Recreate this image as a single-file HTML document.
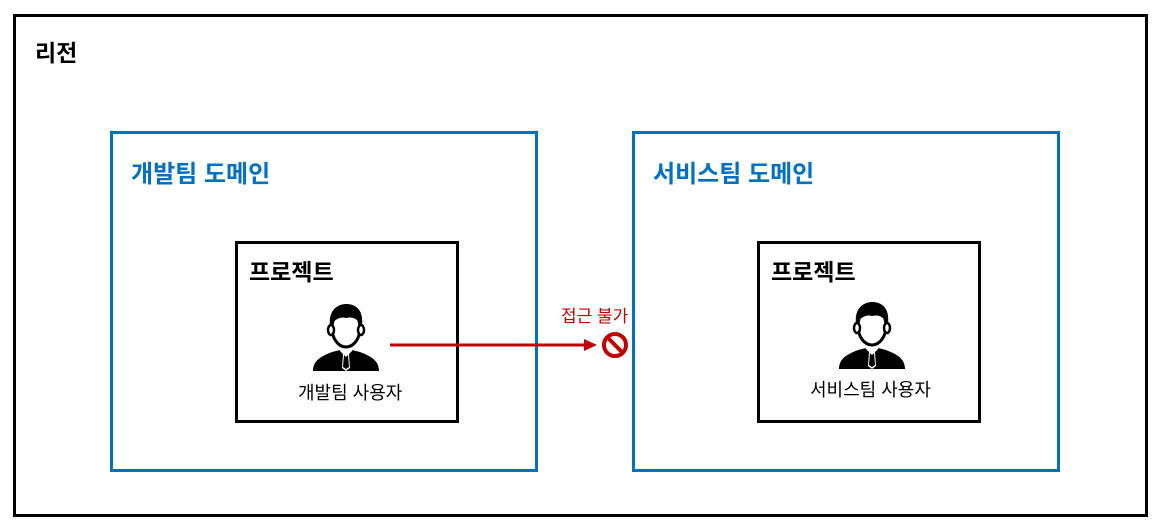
<!DOCTYPE html>
<html><head><meta charset="utf-8"><style>
body{margin:0;width:1161px;height:529px;background:#fff;overflow:hidden;font-family:"Liberation Sans","Noto Sans CJK KR",sans-serif;position:relative}
.b{position:absolute;box-sizing:border-box}
.t{position:absolute;white-space:nowrap}
</style></head><body>
<div class="b" style="left:13px;top:14px;width:1135px;height:503px;border:3px solid #000"></div>
<div class="t" style="left:35px;top:34px;font-size:23px;font-weight:bold">리전</div>
<div class="b" style="left:110px;top:131px;width:428px;height:341px;border:3px solid #0070c0"></div>
<div class="t" style="left:131px;top:154px;font-size:24px;font-weight:bold;color:#0070c0">개발팀 도메인</div>
<div class="b" style="left:632px;top:131px;width:428px;height:341px;border:3px solid #0070c0"></div>
<div class="t" style="left:653px;top:154px;font-size:24px;font-weight:bold;color:#0070c0">서비스팀 도메인</div>
<div class="b" style="left:235px;top:241px;width:224px;height:182px;border:3px solid #000"></div>
<div class="t" style="left:249px;top:253px;font-size:23px;font-weight:bold">프로젝트</div>
<div class="b" style="left:757px;top:241px;width:224px;height:182px;border:3px solid #000"></div>
<div class="t" style="left:771px;top:253px;font-size:23px;font-weight:bold">프로젝트</div>
<div class="t" style="left:298px;top:379px;font-size:18px">개발팀 사용자</div>
<div class="t" style="left:810px;top:376px;font-size:18px">서비스팀 사용자</div>
<div class="t" style="left:561px;top:302px;font-size:17px;color:#c00000">접근 불가</div>
<svg width="1161" height="529" style="position:absolute;left:0;top:0">
<defs><g id="u">
<path d="M-33,33 C-33,22 -24,18 -14,14 L-6,12 L0,18 L6,12 L14,14 C24,18 33,22 33,33 Z" fill="#000"/>
<path d="M-3,16 L3,16 L4,30 L0,33 L-4,30 Z" fill="#fff"/>
<path d="M-2,17 L2,17 L3,29 L0,31 L-3,29 Z" fill="#000"/>
<path d="M-6,12 L0,18 L6,12" fill="none" stroke="#fff" stroke-width="1.5"/>
<ellipse cx="0" cy="-10" rx="14" ry="19" fill="#fff" stroke="#000" stroke-width="3"/>
<path d="M-16,-12 C-18,-30 -6,-34 0,-34 C8,-34 18,-30 16,-12 C12,-18 8,-22 0,-20 C-6,-22 -12,-18 -16,-12 Z" fill="#000"/>
<ellipse cx="-15" cy="-8" rx="3" ry="5" fill="#fff" stroke="#000" stroke-width="2.5"/>
<ellipse cx="15" cy="-8" rx="3" ry="5" fill="#fff" stroke="#000" stroke-width="2.5"/>
</g></defs>
<use href="#u" x="346" y="338"/>
<use href="#u" x="872" y="336"/>
<line x1="390" y1="345" x2="586" y2="345" stroke="#c00000" stroke-width="3"/>
<path d="M584,339 L597,345 L584,351 Z" fill="#c00000"/>
<circle cx="615" cy="345" r="11" fill="none" stroke="#c00000" stroke-width="4"/>
<line x1="607" y1="337" x2="623" y2="353" stroke="#c00000" stroke-width="4"/>
</svg>
</body></html>
